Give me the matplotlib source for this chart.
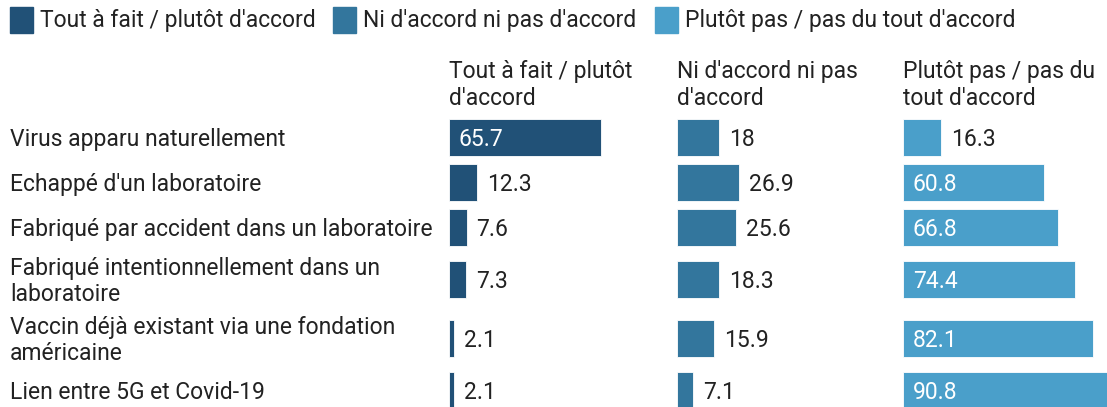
import matplotlib.pyplot as plt
from matplotlib.patches import Rectangle

plt.rcParams['font.family'] = ['Roboto', 'DejaVu Sans']

categories = ["Virus apparu naturellement",
              "Echappé d'un laboratoire",
              "Fabriqué par accident dans un laboratoire",
              "Fabriqué intentionnellement dans un\nlaboratoire",
              "Vaccin déjà existant via une fondation\naméricaine",
              "Lien entre 5G et Covid-19"]
series_names = ["Tout à fait / plutôt d'accord",
                "Ni d'accord ni pas d'accord",
                "Plutôt pas / pas du tout d'accord"]
headers = ["Tout à fait / plutôt\nd'accord",
           "Ni d'accord ni pas\nd'accord",
           "Plutôt pas / pas du\ntout d'accord"]
accord = [65.7, 12.3, 7.6, 7.3, 2.1, 2.1]
neutre = [18, 26.9, 25.6, 18.3, 15.9, 7.1]
desaccord = [16.3, 60.8, 66.8, 74.4, 82.1, 90.8]

colors = ["#215177", "#33769d", "#4a9fca"]
text_dark = "#222222"

W, H = 1107, 407
fig = plt.figure(figsize=(W / 100, H / 100), dpi=100)
fs = 16.5
dy = 2  # text sits a touch below the bar centre

# row centres (pixels from top), taller rows for two-line labels
ys = []
y = 137.5
prev = None
for c in categories:
    h = 59 if "\n" in c else 45
    if prev is not None:
        y += (prev + h) / 2
    ys.append(y)
    prev = h

# overlay axis in pixel coords for labels and legend
ov = fig.add_axes([0, 0, 1, 1])
ov.set_xlim(0, W)
ov.set_ylim(H, 0)
ov.axis("off")

for c, yc in zip(categories, ys):
    ov.text(10, yc + dy, c, va="center", ha="left", fontsize=fs,
            color=text_dark, linespacing=1.2)

# legend
lx = [10, 333, 655]
for x0, name, col in zip(lx, series_names, colors):
    ov.add_patch(Rectangle((x0, 7), 23, 26, color=col))
    ov.text(x0 + 30, 20, name, va="center", ha="left", fontsize=fs,
            color=text_dark)

# panels
scale = 2.313  # px per unit
lefts = [449, 677, 903]
pw = 228
for left, vals, col, head in zip(lefts, [accord, neutre, desaccord], colors, headers):
    ax = fig.add_axes([left / W, 0, pw / W, 1])
    ax.set_xlim(0, pw / scale)
    ax.set_ylim(H, 0)
    ax.axis("off")
    ax.barh(ys, vals, height=37, color=col, edgecolor="#ffffff",
            linewidth=0.6, clip_on=False)
    ax.text(0, 60, head, va="top", ha="left", fontsize=fs,
            color=text_dark, linespacing=1.2)
    for v, yc in zip(vals, ys):
        lab = f"{v:g}"
        if v > 40:
            ax.text(10 / scale, yc + dy, lab, va="center", ha="left",
                    fontsize=fs, color="white")
        else:
            ax.text(v + 10 / scale, yc + dy, lab, va="center", ha="left",
                    fontsize=fs, color=text_dark)

fig.savefig("out.png", dpi=100)
